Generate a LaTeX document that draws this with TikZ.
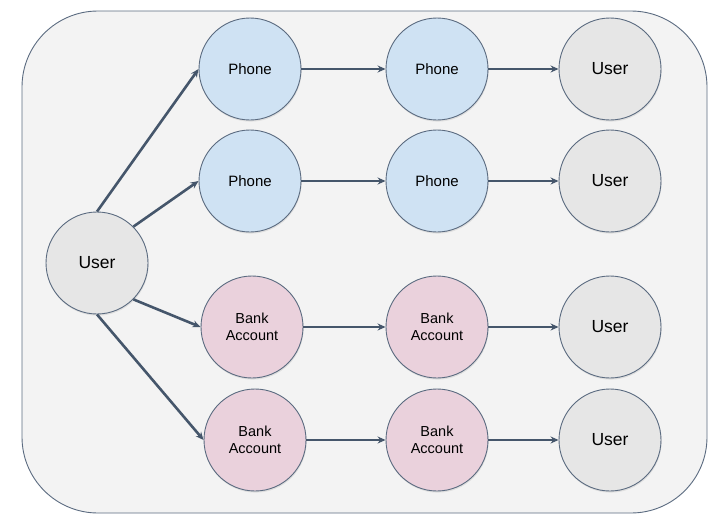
\documentclass[tikz,border=0pt]{standalone}
\usepackage{fontspec}
\setmainfont{Liberation Sans}
\usetikzlibrary{arrows.meta,shadows}
\definecolor{bgpanel}{HTML}{F3F3F3}
\definecolor{panelline}{HTML}{5B6B80}
\definecolor{edgecol}{HTML}{45566B}
\definecolor{phonefill}{HTML}{CFE2F3}
\definecolor{bankfill}{HTML}{EAD1DC}
\definecolor{userfill}{HTML}{E6E6E6}
\tikzset{
  circnode/.style={circle, draw=panelline, line width=0.9pt, minimum size=102pt, inner sep=0pt, align=center,
    drop shadow={opacity=0.18, shadow xshift=0.6pt, shadow yshift=-1.6pt}},
  phonenode/.style={circnode, fill=phonefill, font=\fontsize{15}{17}\selectfont},
  banknode/.style={circnode, fill=bankfill, font=\fontsize{14.5}{17}\selectfont},
  usernode/.style={circnode, fill=userfill, font=\fontsize{17.5}{20}\selectfont},
  link/.style={draw=edgecol, line width=2.6pt, -{Stealth[length=8pt,width=7pt]}},
}
\begin{document}
\begin{tikzpicture}[x=1pt,y=-1pt]
\useasboundingbox (0,0) rectangle (720,522);
\draw[fill=bgpanel, draw=panelline, line width=0.9pt, rounded corners=76pt] (22,11) rectangle (707,513);

\node[usernode] (u0) at (97,263) {User};

\node[phonenode] (p11) at (250,69) {Phone};
\node[phonenode] (p12) at (437,69) {Phone};
\node[usernode]  (u1)  at (610,69) {User};

\node[phonenode] (p21) at (250,181) {Phone};
\node[phonenode] (p22) at (437,181) {Phone};
\node[usernode]  (u2)  at (610,181) {User};

\node[banknode] (b31) at (252,327) {Bank\\Account};
\node[banknode] (b32) at (437,327) {Bank\\Account};
\node[usernode] (u3)  at (610,327) {User};

\node[banknode] (b41) at (255,440) {Bank\\Account};
\node[banknode] (b42) at (437,440) {Bank\\Account};
\node[usernode] (u4)  at (610,440) {User};

\draw[link] (u0.north) -- (p11.west);
\draw[link] (u0.north east) -- (p21.west);
\draw[link] (u0.south east) -- (b31.west);
\draw[link] (u0.south) -- (b41.west);

\draw[link] (p11) -- (p12);
\draw[link] (p12) -- (u1);
\draw[link] (p21) -- (p22);
\draw[link] (p22) -- (u2);
\draw[link] (b31) -- (b32);
\draw[link] (b32) -- (u3);
\draw[link] (b41) -- (b42);
\draw[link] (b42) -- (u4);
\end{tikzpicture}
\end{document}
